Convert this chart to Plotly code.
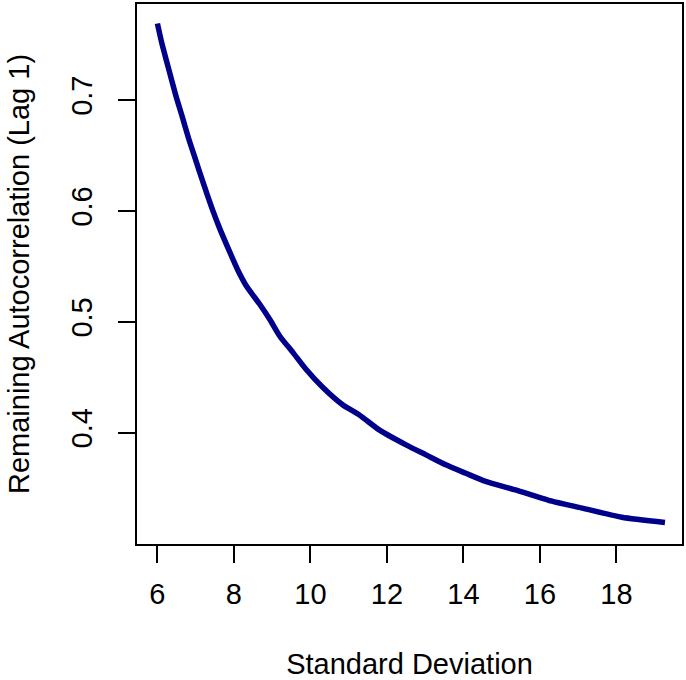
import plotly.graph_objects as go

sd = [6.00, 6.11, 6.24, 6.38, 6.49, 6.64, 6.81, 6.98, 7.20, 7.42, 7.63, 7.89, 8.11, 8.33,
      8.67, 8.94, 9.20, 9.55, 9.89, 10.32, 10.85, 11.28, 11.80, 12.50, 13.02, 13.54, 14.06,
      14.58, 15.36, 16.23, 17.10, 18.14, 19.27]
acf = [0.769, 0.752, 0.735, 0.717, 0.703, 0.686, 0.666, 0.648, 0.625, 0.603, 0.584, 0.563,
       0.546, 0.532, 0.516, 0.502, 0.487, 0.472, 0.457, 0.441, 0.425, 0.416, 0.4025, 0.389,
       0.380, 0.371, 0.3634, 0.356, 0.3484, 0.339, 0.332, 0.3237, 0.319]

x_ticks = [6, 8, 10, 12, 14, 16, 18]
y_ticks = [0.4, 0.5, 0.6, 0.7]

FONT = "Liberation Sans, Arial, sans-serif"

fig = go.Figure()
fig.add_trace(go.Scatter(x=sd, y=acf, mode="lines",
                         line=dict(color="#00008B", width=5.5, shape="spline", smoothing=0.6),
                         hoverinfo="skip", showlegend=False))

fig.update_layout(
    width=686, height=680,
    margin=dict(l=137, r=2, t=4, b=136),
    paper_bgcolor="white", plot_bgcolor="white",
    font=dict(family=FONT, size=29, color="black"),
    xaxis=dict(range=[5.466, 19.715], tickvals=x_ticks, ticktext=[str(v) for v in x_ticks],
               showgrid=False, zeroline=False, showline=True, linecolor="black", linewidth=2,
               mirror=True, ticks="outside", ticklen=17, tickwidth=2, tickcolor="black",
               tickfont=dict(size=29), ticklabelstandoff=6,
               title=dict(text="Standard Deviation", font=dict(size=29), standoff=46)),
    yaxis=dict(range=[0.2996, 0.7866], tickvals=y_ticks, ticktext=[str(v) for v in y_ticks],
               showgrid=False, zeroline=False, showline=True, linecolor="black", linewidth=2,
               mirror=True, ticks="outside", ticklen=17, tickwidth=2, tickcolor="black",
               tickangle=-90, tickfont=dict(size=29), ticklabelstandoff=14,
               title=dict(text="Remaining Autocorrelation (Lag 1)", font=dict(size=29), standoff=28)),
)

fig.write_html("out.html")
